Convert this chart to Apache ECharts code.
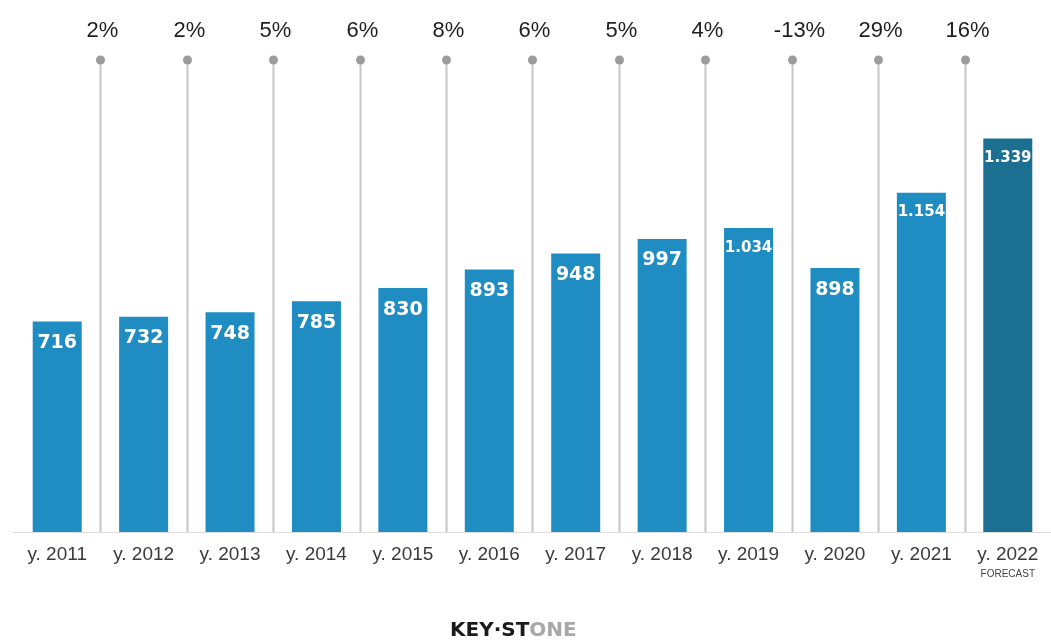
<!DOCTYPE html>
<html>
<head>
<meta charset="utf-8">
<script src="https://cdn.jsdelivr.net/npm/echarts@6/dist/echarts.min.js"></script>
<style>
html,body{margin:0;padding:0;background:#fff;}
#chart{width:1051px;height:642px;}
</style>
</head>
<body>
<div id="chart"></div>
<script>
// ---- data ----
var years = ['y. 2011','y. 2012','y. 2013','y. 2014','y. 2015','y. 2016','y. 2017','y. 2018','y. 2019','y. 2020','y. 2021','y. 2022'];
var values = [716, 732, 748, 785, 830, 893, 948, 997, 1034, 898, 1154, 1339];
var valueLabels = ['716','732','748','785','830','893','948','997','1.034','898','1.154','1.339'];
var growthLabels = ['', '2%', '2%', '5%', '6%', '8%', '6%', '5%', '4%', '-13%', '29%', '16%'];
var forecastIndex = 11;

var chart = echarts.init(document.getElementById('chart'));

var barData = values.map(function (v, i) {
  return {
    value: v,
    itemStyle: { color: i === forecastIndex ? '#1b6f91' : '#1f8dc1' },
    label: { fontSize: valueLabels[i].length > 3 ? 15 : 19 }
  };
});

var dividerData = [];
growthLabels.forEach(function (g, i) { if (g) dividerData.push([i, 0, g]); });

var option = {
  backgroundColor: '#ffffff',
  animation: false,
  grid: { left: 14, top: 3, width: 1047, bottom: 110 },
  xAxis: {
    type: 'category',
    data: years,
    axisLine: { show: true, lineStyle: { color: '#dddddd', width: 1 } },
    axisTick: { show: false },
    splitLine: { show: false },
    axisLabel: {
      interval: 0,
      margin: 12,
      color: '#3a3a3a',
      fontFamily: 'Liberation Sans, Arial, sans-serif',
      fontSize: 19,
      lineHeight: 22,
      formatter: function (v, i) {
        return i === forecastIndex ? v + '\n{f|FORECAST}' : v;
      },
      rich: {
        f: { fontSize: 10, color: '#444444', fontFamily: 'Liberation Sans, Arial, sans-serif', lineHeight: 16 }
      }
    }
  },
  yAxis: {
    type: 'value',
    min: 0,
    max: 1800,
    show: false,
    splitLine: { show: false }
  },
  series: [
    {
      type: 'bar',
      data: barData,
      barWidth: 49,
      z: 2,
      label: {
        show: true,
        position: 'insideTop',
        distance: 12,
        color: '#ffffff',
        fontWeight: 'bold',
        fontFamily: 'DejaVu Sans, sans-serif',
        formatter: function (p) { return valueLabels[p.dataIndex]; }
      }
    },
    {
      type: 'custom',
      z: 1,
      data: dividerData,
      renderItem: function (params, api) {
        var idx = api.value(0);
        var c = api.coord([idx, 0]);
        var band = api.size([1, 0])[0];
        var x = Math.round(c[0] - band / 2) + 0.5;
        var yBase = c[1];
        var yDot = 60;
        return {
          type: 'group',
          children: [
            { type: 'line', shape: { x1: x, y1: yDot, x2: x, y2: yBase }, style: { stroke: '#c6c6c6', lineWidth: 2 } },
            { type: 'circle', shape: { cx: x, cy: yDot, r: 4.5 }, style: { fill: '#9c9c9c' } },
            { type: 'text', style: { text: growthLabels[idx], x: x + (growthLabels[idx].length > 3 ? 7 : 2), y: 31, textAlign: 'center', textVerticalAlign: 'middle', fill: '#1e1e1e', font: '22px "Liberation Sans", Arial, sans-serif' } }
          ]
        };
      }
    }
  ],
  graphic: [
    {
      type: 'text',
      left: 450,
      top: 621,
      style: {
        text: '{a|KEY·ST}{b|ONE}',
        rich: {
          a: { fontFamily: 'DejaVu Sans, sans-serif', fontWeight: 'bold', fontSize: 20, fill: '#1a1a1a' },
          b: { fontFamily: 'DejaVu Sans, sans-serif', fontWeight: 'bold', fontSize: 20, fill: '#a8a8a8' }
        }
      }
    }
  ]
};

chart.setOption(option);
</script>
</body>
</html>
